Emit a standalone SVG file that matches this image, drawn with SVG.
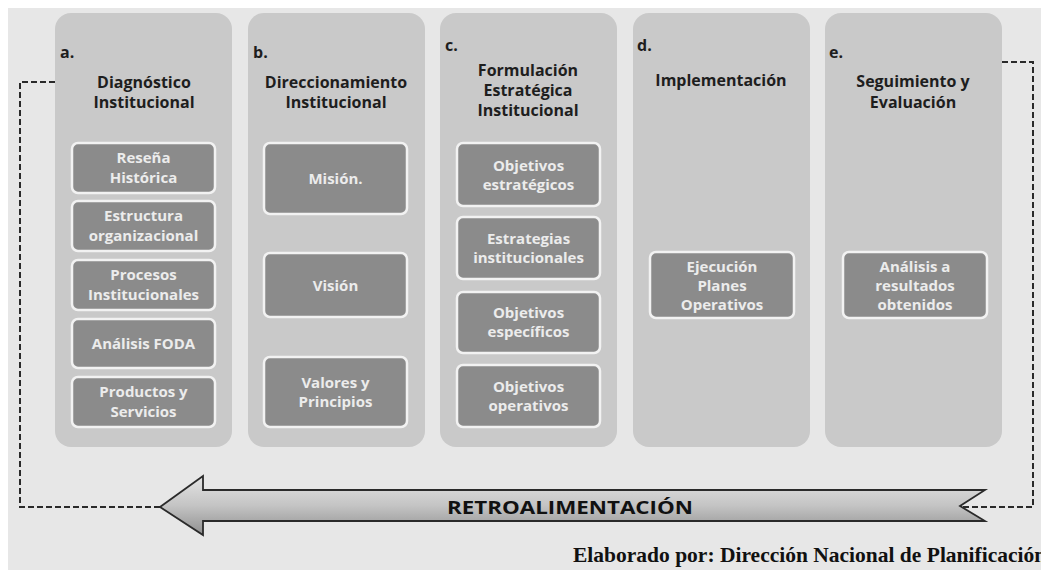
<svg xmlns="http://www.w3.org/2000/svg" width="1041" height="570" viewBox="0 0 1041 570">
<defs>
<linearGradient id="ag" x1="0" y1="0" x2="0" y2="1">
<stop offset="0" stop-color="#e4e4e4"/>
<stop offset="0.5" stop-color="#c4c4c4"/>
<stop offset="1" stop-color="#8f8f8f"/>
</linearGradient>
<style>
.col{fill:#c9c9c9;}
.box{fill:#8b8b8b;stroke:#f2f2f2;stroke-width:2.5;}
.t{font-family:"Open Sans","Liberation Sans",sans-serif;font-weight:bold;font-size:16px;fill:#1e1e1e;text-anchor:middle;}
.l{font-family:"Open Sans","Liberation Sans",sans-serif;font-weight:bold;font-size:16px;fill:#1e1e1e;}
.b{font-family:"Open Sans","Liberation Sans",sans-serif;font-weight:bold;font-size:15px;fill:#ececec;text-anchor:middle;}
.dash{fill:none;stroke:#2a2a2a;stroke-width:2;stroke-dasharray:6 3;}
</style>
</defs>
<rect x="0" y="0" width="1041" height="570" fill="#ffffff"/>
<rect x="8" y="8" width="1033" height="562" fill="#e7e7e7"/>

<g id="connectors">
<path class="dash" d="M55,82 H20 V507 H160"/>
<path class="dash" d="M1002,62 H1033 V507 H960"/>
</g>

<g id="col-a">
<rect class="col" x="55" y="13" width="177" height="434" rx="16"/>
<text class="l" x="60" y="58">a.</text>
<text class="t" x="144" y="88">Diagnóstico</text>
<text class="t" x="144" y="108">Institucional</text>
<g id="a1"><rect class="box" x="72" y="143" width="143" height="50" rx="6"/><text class="b" x="143.5" y="163">Reseña</text><text class="b" x="143.5" y="183">Histórica</text></g>
<g id="a2"><rect class="box" x="72" y="201" width="143" height="50" rx="6"/><text class="b" x="143.5" y="221">Estructura</text><text class="b" x="143.5" y="241">organizacional</text></g>
<g id="a3"><rect class="box" x="72" y="260" width="143" height="50" rx="6"/><text class="b" x="143.5" y="280">Procesos</text><text class="b" x="143.5" y="300">Institucionales</text></g>
<g id="a4"><rect class="box" x="72" y="319" width="143" height="49" rx="6"/><text class="b" x="143.5" y="349">Análisis FODA</text></g>
<g id="a5"><rect class="box" x="72" y="377" width="143" height="50" rx="6"/><text class="b" x="143.5" y="397">Productos y</text><text class="b" x="143.5" y="417">Servicios</text></g>
</g>

<g id="col-b">
<rect class="col" x="248" y="13" width="177" height="434" rx="16"/>
<text class="l" x="253" y="58">b.</text>
<text class="t" x="336" y="88">Direccionamiento</text>
<text class="t" x="336" y="108">Institucional</text>
<g id="b1"><rect class="box" x="264" y="143" width="143" height="71" rx="6"/><text class="b" x="335.5" y="184">Misión.</text></g>
<g id="b2"><rect class="box" x="264" y="253" width="143" height="64" rx="6"/><text class="b" x="335.5" y="291">Visión</text></g>
<g id="b3"><rect class="box" x="264" y="357" width="143" height="70" rx="6"/><text class="b" x="335.5" y="388">Valores y</text><text class="b" x="335.5" y="407">Principios</text></g>
</g>

<g id="col-c">
<rect class="col" x="440" y="13" width="177" height="434" rx="16"/>
<text class="l" x="445" y="51">c.</text>
<text class="t" x="528" y="76">Formulación</text>
<text class="t" x="528" y="96">Estratégica</text>
<text class="t" x="528" y="116">Institucional</text>
<g id="c1"><rect class="box" x="457" y="143" width="143" height="63" rx="6"/><text class="b" x="528.5" y="171">Objetivos</text><text class="b" x="528.5" y="190">estratégicos</text></g>
<g id="c2"><rect class="box" x="457" y="217" width="143" height="62" rx="6"/><text class="b" x="528.5" y="244">Estrategias</text><text class="b" x="528.5" y="263">institucionales</text></g>
<g id="c3"><rect class="box" x="457" y="292" width="143" height="61" rx="6"/><text class="b" x="528.5" y="318">Objetivos</text><text class="b" x="528.5" y="337">específicos</text></g>
<g id="c4"><rect class="box" x="457" y="365" width="143" height="62" rx="6"/><text class="b" x="528.5" y="392">Objetivos</text><text class="b" x="528.5" y="411">operativos</text></g>
</g>

<g id="col-d">
<rect class="col" x="633" y="13" width="177" height="434" rx="16"/>
<text class="l" x="637" y="51">d.</text>
<text class="t" x="721" y="86">Implementación</text>
<g id="d1"><rect class="box" x="650" y="252" width="144" height="66" rx="6"/><text class="b" x="722" y="272">Ejecución</text><text class="b" x="722" y="291">Planes</text><text class="b" x="722" y="310">Operativos</text></g>
</g>

<g id="col-e">
<rect class="col" x="825" y="13" width="177" height="434" rx="16"/>
<text class="l" x="829" y="58">e.</text>
<text class="t" x="913" y="87">Seguimiento y</text>
<text class="t" x="913" y="108">Evaluación</text>
<g id="e1"><rect class="box" x="843" y="252" width="144" height="66" rx="6"/><text class="b" x="915" y="272">Análisis a</text><text class="b" x="915" y="291">resultados</text><text class="b" x="915" y="310">obtenidos</text></g>
</g>

<g id="feedback">
<polygon points="160,507 203,476 203,490 985,490 960,506 985,521 203,521 203,535" fill="url(#ag)" stroke="#2a2a2a" stroke-width="1.8" stroke-linejoin="miter"/>
<text x="570" y="514" font-family="'Open Sans','Liberation Sans',sans-serif" font-weight="bold" font-size="18.5" fill="#111" text-anchor="middle" textLength="246" lengthAdjust="spacingAndGlyphs">RETROALIMENTACIÓN</text>
</g>

<text x="573" y="562" font-family="'Liberation Serif','Times New Roman',serif" font-weight="bold" font-size="21.5" fill="#111">Elaborado por: Dirección Nacional de Planificación</text>
</svg>
